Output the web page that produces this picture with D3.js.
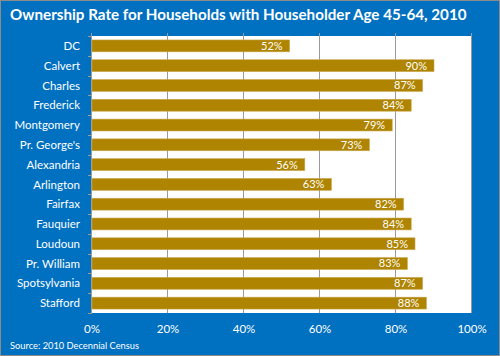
<!DOCTYPE html>
<html><head><meta charset="utf-8">
<script src="https://cdn.jsdelivr.net/npm/d3@7"></script>
<style>html,body{margin:0;padding:0;background:#fff}svg{display:block}</style>
</head><body>
<script>
const categories = ["DC","Calvert","Charles","Frederick","Montgomery","Pr. George's","Alexandria","Arlington","Fairfax","Fauquier","Loudoun","Pr. William","Spotsylvania","Stafford"];
const values = [52,90,87,84,79,73,56,63,82,84,85,83,87,88];
const xTicks = [0,20,40,60,80,100];
const title = "Ownership Rate for Households with Householder Age 45-64, 2010";
const source = "Source: 2010 Decennial Census";

const W = 500, H = 356;
const font = "Lato, 'Open Sans', sans-serif";
const svg = d3.select("body").append("svg").attr("width", W).attr("height", H);
svg.append("rect").attr("x",0.5).attr("y",0.5).attr("width",W-1).attr("height",H-1)
  .attr("fill","#0070C0").attr("stroke","#8c8c8c");

const m = {left:92, right:472, top:36, bottom:313};
const x = d3.scaleLinear().domain([0,100]).range([m.left, m.right]);
const y = d3.scaleBand().domain(categories).range([m.top, m.bottom]).paddingInner(0.4).paddingOuter(0.2);
const yb = d3.scaleBand().domain(categories).range([m.top, m.bottom]);

svg.append("rect").attr("x",m.left).attr("y",m.top).attr("width",m.right-m.left).attr("height",m.bottom-m.top).attr("fill","#fff");

// gridlines
svg.append("g").selectAll("line").data(xTicks).join("line")
  .attr("x1",d=>Math.round(x(d))-0.5).attr("x2",d=>Math.round(x(d))-0.5)
  .attr("y1",m.top-3).attr("y2",m.bottom).attr("stroke","#9a9a9a").attr("stroke-width",1);

// category ticks
const tickYs = categories.map(c=>yb(c)).concat([m.bottom]);
svg.append("g").selectAll("line").data(tickYs).join("line")
  .attr("x1",m.left-4).attr("x2",m.left).attr("y1",d=>Math.round(d)+0.5).attr("y2",d=>Math.round(d)+0.5)
  .attr("stroke","#9a9a9a");

// bars
svg.append("g").selectAll("rect").data(values).join("rect")
  .attr("x",x(0)).attr("y",(d,i)=>y(categories[i]))
  .attr("width",d=>x(d)-x(0)).attr("height",y.bandwidth())
  .attr("fill","#AE8400").attr("stroke","#C9A650").attr("stroke-width",0.6);

// value labels
svg.append("g").selectAll("text").data(values).join("text")
  .attr("x",d=>x(d)-7).attr("y",(d,i)=>y(categories[i])+y.bandwidth()/2)
  .attr("dy","0.36em").attr("text-anchor","end").attr("fill","#fff")
  .attr("font-family",font).attr("font-size",11).text(d=>d+"%");

// category labels
svg.append("g").selectAll("text").data(categories).join("text")
  .attr("x",80).attr("y",d=>yb(d)+yb.bandwidth()/2).attr("dy","0.36em")
  .attr("text-anchor","end").attr("fill","#fff").attr("font-family",font).attr("font-size",11.5).text(d=>d);

// x tick labels
svg.append("g").selectAll("text").data(xTicks).join("text")
  .attr("x",d=>x(d)).attr("y",329).attr("dy","0.36em").attr("text-anchor","middle")
  .attr("fill","#fff").attr("font-family",font).attr("font-size",11.5).text(d=>d+"%");

svg.append("text").attr("x",10).attr("y",20).attr("fill","#fff").attr("font-family",font)
  .attr("font-weight","bold").attr("font-size",15.2).text(title);
svg.append("text").attr("x",10).attr("y",346).attr("dy","0.36em").attr("fill","#fff").attr("font-family",font)
  .attr("font-size",9.3).text(source);
</script>
</body></html>
